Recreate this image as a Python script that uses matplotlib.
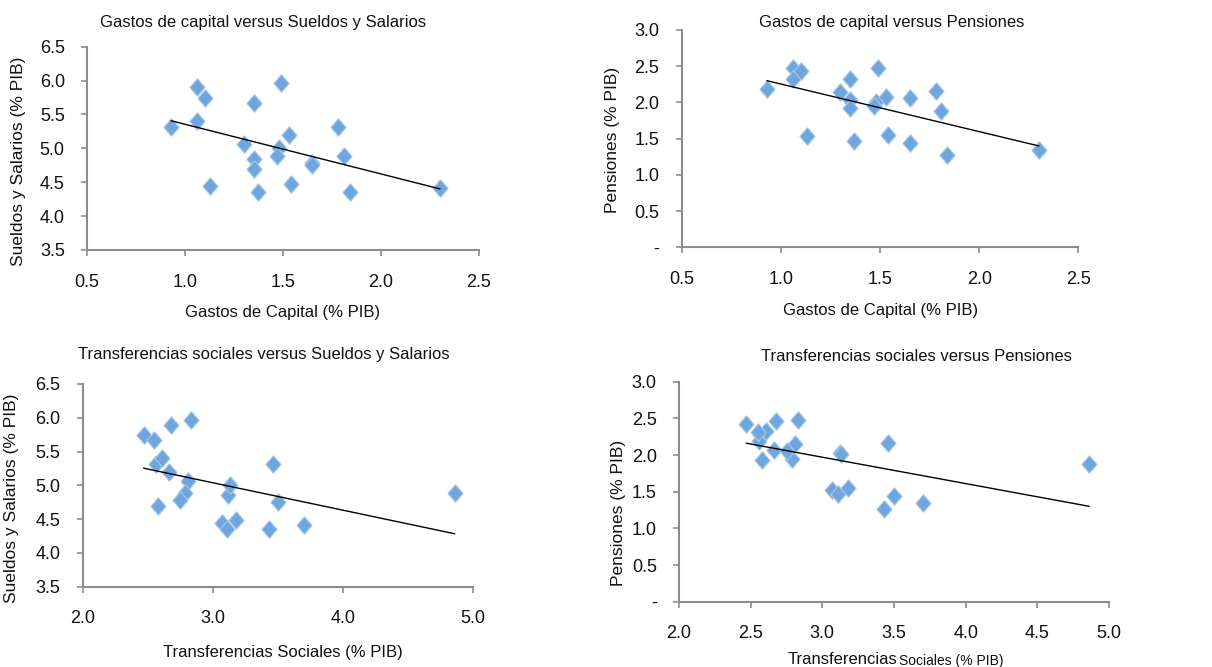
import numpy as np
import matplotlib
matplotlib.use("Agg")
import matplotlib.pyplot as plt
from matplotlib.ticker import FixedLocator, FuncFormatter

plt.rcParams["font.family"] = ["Liberation Sans", "DejaVu Sans"]

# ----------------------------------------------------------
# Datos por país (% PIB)
# ----------------------------------------------------------

gastos_capital = [0.93, 1.06, 1.06, 1.10, 1.13, 1.30, 1.35, 1.35, 1.35, 1.37, 1.49,
                  1.48, 1.47, 1.53, 1.54, 1.65, 1.65, 1.78, 1.81, 1.84, 2.30]
transferencias = [2.56, 2.68, 2.61, 2.47, 3.07, 2.81, 2.55, 3.12, 2.58, 3.11, 2.83,
                  3.13, 2.79, 2.66, 3.18, 2.75, 3.50, 3.46, 4.86, 3.43, 3.70]
sueldos = [5.32, 5.90, 5.41, 5.75, 4.44, 5.07, 5.67, 4.85, 4.69, 4.35, 5.96,
           5.00, 4.88, 5.20, 4.48, 4.78, 4.76, 5.31, 4.88, 4.35, 4.42]
pensiones = [2.19, 2.47, 2.33, 2.43, 1.53, 2.15, 2.32, 2.03, 1.93, 1.47, 2.48,
             2.01, 1.95, 2.07, 1.55, 2.06, 1.44, 2.16, 1.88, 1.27, 1.35]

ticks_capital = [0.5, 1.0, 1.5, 2.0, 2.5]
ticks_transf_a = [2.0, 3.0, 4.0, 5.0]
ticks_transf_b = [2.0, 2.5, 3.0, 3.5, 4.0, 4.5, 5.0]
ticks_sueldos = [3.5, 4.0, 4.5, 5.0, 5.5, 6.0, 6.5]
ticks_pensiones = [0.0, 0.5, 1.0, 1.5, 2.0, 2.5, 3.0]

W, H = 1212, 667
fig = plt.figure(figsize=(W / 100, H / 100), dpi=100)

diamante = [(0, 1), (0.86, 0), (0, -1), (-0.86, 0), (0, 1)]
AZUL = "#6FA6DE"
BORDE = "#A8C8EC"
GRIS = "#8C8C8C"


def eje(left, right, top, bottom):
    return fig.add_axes([left / W, 1 - bottom / H, (right - left) / W, (bottom - top) / H])


def panel(ax, x, y, xticks, yticks, xfmt, yfmt):
    x = np.array(x)
    y = np.array(y)
    ax.scatter(x, y, marker=diamante, s=160, color=AZUL, edgecolors=BORDE,
               linewidths=0.8, zorder=3, clip_on=False)

    # linea de tendencia lineal
    m, b = np.polyfit(x, y, 1)
    xs = np.array([x.min(), x.max()])
    ax.plot(xs, m * xs + b, color="black", lw=1.0, zorder=4)

    ax.set_xlim(xticks[0], xticks[-1])
    ax.set_ylim(yticks[0], yticks[-1])
    ax.xaxis.set_major_locator(FixedLocator(xticks))
    ax.yaxis.set_major_locator(FixedLocator(yticks))
    ax.xaxis.set_major_formatter(FuncFormatter(xfmt))
    ax.yaxis.set_major_formatter(FuncFormatter(yfmt))

    for s in ["top", "right"]:
        ax.spines[s].set_visible(False)
    for s in ["left", "bottom"]:
        ax.spines[s].set_color(GRIS)
        ax.spines[s].set_linewidth(1.5)

    ax.tick_params(axis="x", direction="out", length=4, width=1.2, color=GRIS,
                   pad=13, labelsize=13, labelcolor="#111111")
    ax.tick_params(axis="y", direction="out", length=4, width=1.2, color=GRIS,
                   pad=12, labelsize=13, labelcolor="#111111")


uno = lambda v, p: f"{v:.1f}"
guion = lambda v, p: "-" if abs(v) < 1e-9 else f"{v:.1f}"

ax1 = eje(87, 479, 46.7, 250)
panel(ax1, gastos_capital, sueldos, ticks_capital, ticks_sueldos, uno, uno)

ax2 = eje(681.7, 1078.3, 30, 247.3)
panel(ax2, gastos_capital, pensiones, ticks_capital, ticks_pensiones, uno, guion)

ax3 = eje(82.7, 472.7, 384, 586.7)
panel(ax3, transferencias, sueldos, ticks_transf_a, ticks_sueldos, uno, uno)

ax4 = eje(679, 1109, 381.7, 601.7)
panel(ax4, transferencias, pensiones, ticks_transf_b, ticks_pensiones, uno, guion)

# ----------------------------------------------------------
# Titulos y etiquetas
# ----------------------------------------------------------

def texto(x, y, s, size, **kw):
    fig.text(x / W, 1 - y / H, s, fontsize=size, ha=kw.pop("ha", "center"),
             va="center", color="#111111", **kw)


texto(263, 23, "Gastos de capital versus Sueldos y Salarios", 12)
texto(892, 22, "Gastos de capital versus Pensiones", 12)
texto(264, 354, "Transferencias sociales versus Sueldos y Salarios", 12)
texto(916, 357, "Transferencias sociales versus Pensiones", 12)

texto(283, 313, "Gastos de Capital (% PIB)", 12)
texto(881, 310, "Gastos de Capital (% PIB)", 12)
texto(283, 652, "Transferencias Sociales (% PIB)", 12)
texto(897, 660, "Transferencias", 12, ha="right")
texto(899, 661, "Sociales (% PIB)", 10, ha="left")

texto(19, 161, "Sueldos y Salarios (% PIB)", 12.5, rotation=90)
texto(613, 140, "Pensiones (% PIB)", 12.5, rotation=90)
texto(12, 498, "Sueldos y Salarios (% PIB)", 12.5, rotation=90)
texto(618, 513, "Pensiones (% PIB)", 12.5, rotation=90)

fig.savefig("out.png", dpi=100)
